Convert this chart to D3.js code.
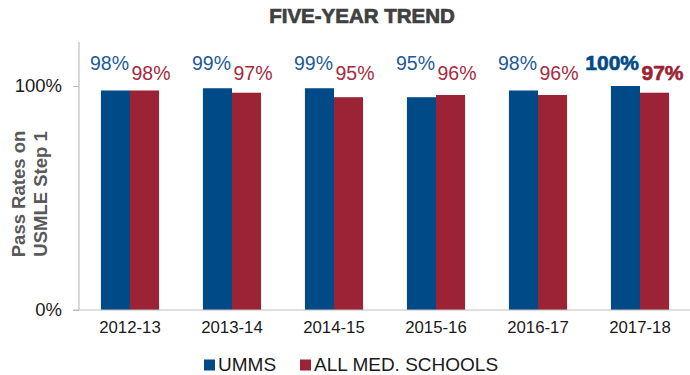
<!DOCTYPE html>
<html><head><meta charset="utf-8">
<script src="https://cdn.jsdelivr.net/npm/d3@7"></script>
<style>body{margin:0;background:#fff}svg{display:block;font-family:"Liberation Sans",Arial,sans-serif}</style>
</head><body><svg id="c" width="690" height="375"></svg>
<script>
const categories = ["2012-13","2013-14","2014-15","2015-16","2016-17","2017-18"];
const umms = [98, 99, 99, 95, 98, 100];
const allSchools = [98, 97, 95, 96, 96, 97];
const seriesNames = ["UMMS", "ALL MED. SCHOOLS"];
const yTicks = [0, 100];

(function(){
const svg = d3.select("#c");
const colors = ["#004b87", "#9b2335"];
const labelColors = ["#1d5a97", "#a62a3e"];
const mLeft = 79, mRight = 691, mTop = 42, mBottom = 310;

const x = d3.scaleBand().domain(categories).range([mLeft, mRight]).paddingInner(0.43).paddingOuter(0.215);
const xs = d3.scaleBand().domain([0,1]).range([0, x.bandwidth()]);
const y = d3.scaleLinear().domain([0, 120]).range([mBottom, mBottom - 224*1.2]);

// title
svg.append("text").attr("x", 362).attr("y", 23).attr("text-anchor", "middle")
  .attr("font-size", 20.5).attr("font-weight", "bold").attr("fill", "#404040")
  .attr("stroke", "#404040").attr("stroke-width", 0.7).text("FIVE-YEAR TREND");

// y axis title
const yt = svg.append("text").attr("transform", "translate(30,194) rotate(-90)")
  .attr("text-anchor", "middle").attr("font-size", 18.5).attr("font-weight", "bold").attr("fill", "#595959");
yt.append("tspan").attr("x", 0).attr("dy", -5).text("Pass Rates on");
yt.append("tspan").attr("x", 0).attr("dy", 22).text("USMLE Step 1");

// bars
const data = categories.map((c, i) => ({c, i, v: [umms[i], allSchools[i]]}));
const g = svg.append("g");
data.forEach(d => {
  d.v.forEach((v, s) => {
    g.append("rect").attr("x", x(d.c) + xs(s)).attr("y", y(v))
      .attr("width", xs.bandwidth()).attr("height", y(0) - y(v)).attr("fill", colors[s]);
    const last = d.i === categories.length - 1;
    const t = g.append("text").attr("font-size", last ? 21 : 19.5)
      .attr("fill", last ? colors[s] : labelColors[s])
      .attr("font-weight", last ? "bold" : "normal")
      .text(v + "%");
    if (last) t.attr("stroke", colors[s]).attr("stroke-width", 0.6);
    if (s === 0) t.attr("x", x(d.c) + xs.bandwidth() - 1).attr("y", 70).attr("text-anchor", "end");
    else t.attr("x", x(d.c) + xs(1) + 1.5).attr("y", 80).attr("text-anchor", "start");
  });
});

// y axis
const yAxis = d3.axisLeft(y).tickValues(yTicks).tickFormat(d => d + "%").tickSize(6).tickPadding(11);
const ya = svg.append("g").attr("transform", `translate(${mLeft},0)`).call(yAxis);
ya.select(".domain").remove();
ya.selectAll("line").attr("stroke", "#bfbfbf");
ya.selectAll("text").attr("font-size", 18.5).attr("fill", "#1a1a1a").attr("font-family", "Liberation Sans, Arial, sans-serif");
svg.append("line").attr("x1", mLeft).attr("x2", mLeft).attr("y1", mTop).attr("y2", mBottom).attr("stroke", "#bfbfbf").attr("stroke-width", 1.2);

// x axis
const xAxis = d3.axisBottom(x).tickSize(0).tickPadding(11);
const xa = svg.append("g").attr("transform", `translate(0,${mBottom})`).call(xAxis);
xa.select(".domain").remove();
xa.selectAll("text").attr("font-size", 16.8).attr("fill", "#1a1a1a").attr("font-family", "Liberation Sans, Arial, sans-serif");
svg.append("line").attr("x1", mLeft - 6).attr("x2", 690).attr("y1", mBottom).attr("y2", mBottom).attr("stroke", "#bfbfbf").attr("stroke-width", 1.2);

// legend
const legX = [204, 300];
seriesNames.forEach((n, s) => {
  svg.append("rect").attr("x", legX[s]).attr("y", 359.5).attr("width", 11).attr("height", 11).attr("fill", colors[s]);
  svg.append("text").attr("x", legX[s] + 14).attr("y", 371).attr("font-size", 19).attr("fill", "#1a1a1a").text(n);
});
})();
</script></body></html>
